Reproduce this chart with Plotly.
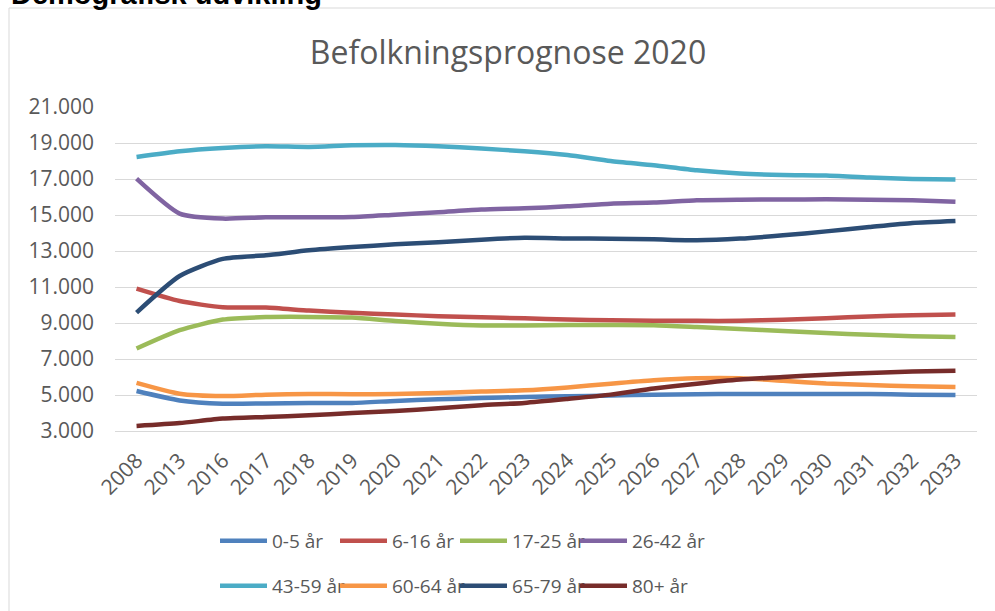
import plotly.graph_objects as go

# Data
years = ['2008', '2013', '2016', '2017', '2018', '2019', '2020', '2021', '2022', '2023',
         '2024', '2025', '2026', '2027', '2028', '2029', '2030', '2031', '2032', '2033']

age_0_5 = [5220, 4700, 4520, 4530, 4560, 4560, 4670, 4760, 4830, 4890,
           4930, 4970, 5020, 5040, 5060, 5060, 5060, 5050, 5020, 5000]
age_6_16 = [10910, 10220, 9870, 9860, 9690, 9570, 9470, 9380, 9320, 9260,
            9190, 9150, 9120, 9120, 9120, 9180, 9270, 9360, 9430, 9470]
age_17_25 = [7580, 8600, 9190, 9330, 9340, 9300, 9110, 8960, 8860, 8860,
             8890, 8890, 8880, 8780, 8670, 8560, 8440, 8350, 8270, 8220]
age_26_42 = [17020, 15080, 14800, 14870, 14870, 14890, 15020, 15150, 15300, 15370,
             15480, 15630, 15690, 15820, 15850, 15860, 15870, 15850, 15820, 15740]
age_43_59 = [18220, 18540, 18720, 18820, 18780, 18870, 18890, 18820, 18690, 18540,
             18330, 18000, 17760, 17480, 17300, 17220, 17190, 17080, 17000, 16970]
age_60_64 = [5670, 5070, 4940, 5020, 5060, 5040, 5060, 5110, 5190, 5260,
             5420, 5630, 5820, 5930, 5930, 5790, 5640, 5560, 5480, 5440]
age_65_79 = [9580, 11610, 12560, 12760, 13040, 13220, 13370, 13480, 13630, 13740,
             13700, 13680, 13650, 13600, 13690, 13870, 14090, 14330, 14560, 14670]
age_80 = [3280, 3440, 3690, 3780, 3870, 4000, 4110, 4260, 4430, 4560,
          4780, 5020, 5360, 5630, 5860, 6000, 6130, 6220, 6300, 6350]

y_ticks = [3000, 5000, 7000, 9000, 11000, 13000, 15000, 17000, 19000, 21000]
y_tick_labels = ['3.000', '5.000', '7.000', '9.000', '11.000',
                 '13.000', '15.000', '17.000', '19.000', '21.000']

series = [
    ('0-5 år', age_0_5, '#4F81BD', 'legend'),
    ('6-16 år', age_6_16, '#C0504D', 'legend'),
    ('17-25 år', age_17_25, '#9BBB59', 'legend'),
    ('26-42 år', age_26_42, '#8064A2', 'legend'),
    ('43-59 år', age_43_59, '#4BACC6', 'legend2'),
    ('60-64 år', age_60_64, '#F79646', 'legend2'),
    ('65-79 år', age_65_79, '#2C4D75', 'legend2'),
    ('80+ år', age_80, '#772C2A', 'legend2'),
]

text_color = '#595959'
grid_color = '#D9D9D9'
font_family = 'Open Sans, sans-serif'

fig = go.Figure()
for name, values, color, legend in series:
    fig.add_trace(go.Scatter(
        x=years, y=values, name=name, mode='lines',
        line=dict(color=color, width=4.5, shape='spline', smoothing=0.6),
        legend=legend,
    ))

# empty, invisible entries so the last label of each legend row isn't clipped
for legend in ['legend', 'legend2']:
    fig.add_trace(go.Scatter(
        x=[None], y=[None], name='', mode='lines', legend=legend,
        line=dict(color='rgba(0,0,0,0)'), hoverinfo='skip',
    ))

legend_style = dict(
    orientation='h', xanchor='left', yanchor='middle',
    font=dict(family=font_family, size=19, color=text_color),
    itemwidth=47, entrywidth=58, entrywidthmode='pixels',
    bgcolor='rgba(0,0,0,0)', tracegroupgap=0, itemclick=False, itemdoubleclick=False,
)

fig.update_layout(
    width=995, height=611,
    paper_bgcolor='white', plot_bgcolor='white',
    margin=dict(l=115, r=18, t=107, b=180, autoexpand=False),
    font=dict(family=font_family, color=text_color),
    title=dict(
        text='Befolkningsprognose 2020',
        font=dict(family=font_family, size=32, color=text_color),
        xref='container', x=508 / 995, xanchor='center',
        yref='container', y=1 - 53 / 611, yanchor='middle',
    ),
    legend=dict(x=(215 - 115) / 862, y=(431 - 541) / 324, **legend_style),
    legend2=dict(x=(215 - 115) / 862, y=(431 - 586) / 324, **legend_style),
    shapes=[dict(
        type='rect', xref='paper', yref='paper',
        x0=(9 - 115) / 862, x1=(1010 - 115) / 862,
        y0=(431 - 640) / 324, y1=(431 - 8) / 324,
        line=dict(color=grid_color, width=1), layer='below',
    )],
    annotations=[dict(
        text='<b>Demografisk udvikling</b>', xref='paper', yref='paper',
        x=(9 - 115) / 862, xanchor='left',
        y=(431 + 6) / 324, yanchor='middle', showarrow=False,
        font=dict(family='Liberation Sans, Arial, sans-serif', size=29, color='black'),
    )],
)

fig.update_xaxes(
    type='category', range=[-0.5, len(years) - 0.5],
    showgrid=False, showline=True, linecolor=grid_color, linewidth=1,
    tickangle=-45, ticks='', ticklabelstandoff=8,
    tickfont=dict(family=font_family, size=21, color=text_color),
)
fig.update_yaxes(
    range=[3000, 21000], tickvals=y_ticks, ticktext=y_tick_labels,
    showgrid=True, gridcolor=grid_color, gridwidth=1, zeroline=False,
    ticks='', ticklabelstandoff=20,
    tickfont=dict(family=font_family, size=21, color=text_color),
)

# drop the default 8px page margin so the figure sits at the window corner
fig.write_html('out.html', config={'displayModeBar': False},
               post_script="document.body.style.margin = '0';")
